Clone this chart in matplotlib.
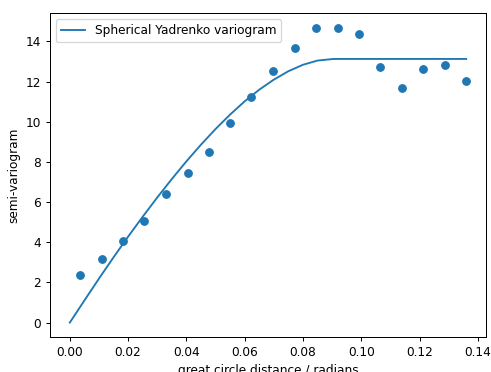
import numpy as np
import matplotlib
matplotlib.use('Agg')
import matplotlib.pyplot as plt

plt.rcParams['font.size'] = 9.7

# empirical semi-variogram (binned)
lag = [0.00354, 0.0110, 0.0183, 0.0256, 0.0331, 0.0404, 0.0477, 0.0550, 0.0623, 0.0697,
       0.0772, 0.0845, 0.0919, 0.0992, 0.1065, 0.1139, 0.1213, 0.1286, 0.1359]
gamma = [2.37, 3.15, 4.07, 5.07, 6.42, 7.45, 8.51, 9.93, 11.24, 12.51,
         13.70, 14.67, 14.65, 14.37, 12.75, 11.67, 12.65, 12.81, 12.05]

# fitted model curve
model_x = [0.0, 0.005, 0.010, 0.015, 0.020, 0.025, 0.030, 0.035, 0.040, 0.045, 0.050,
           0.055, 0.060, 0.065, 0.070, 0.075, 0.080, 0.085, 0.0905, 0.136]
model_y = [0.0, 1.10, 2.19, 3.25, 4.28, 5.27, 6.23, 7.15, 8.03, 8.86, 9.64,
           10.36, 11.02, 11.60, 12.10, 12.52, 12.84, 13.05, 13.13, 13.13]

dpi = 90
fig = plt.figure(figsize=(491 / dpi, 372 / dpi), dpi=dpi)
ax = fig.add_axes([50 / 491, 1 - 337.3 / 372, 436 / 491, 324 / 372])

ax.plot(model_x, model_y, label='Spherical Yadrenko variogram')
ax.scatter(lag, gamma)
ax.set_xlabel('great circle distance / radians')
ax.set_ylabel('semi-variogram')
ax.legend(loc='upper left')

fig.savefig('out.png', dpi=dpi)
plt.close()
